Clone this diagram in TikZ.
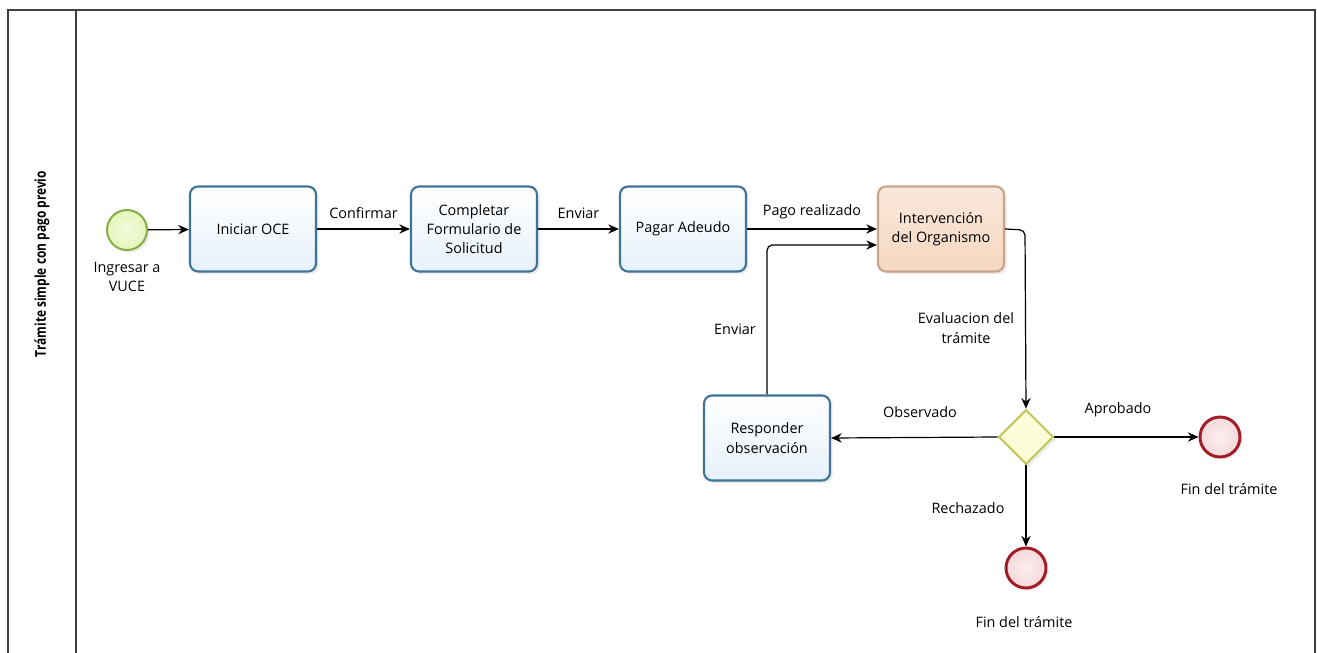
\documentclass[tikz,border=0pt]{standalone}
\usepackage{fontspec}
\setmainfont{Open Sans}
\newfontfamily\titlefont[FakeStretch=0.8]{Open Sans}
\usetikzlibrary{arrows.meta,shadows,calc,shapes.geometric}
\definecolor{taskfill}{HTML}{E6F1FA}
\definecolor{taskdraw}{HTML}{3F7497}
\definecolor{orgfill}{HTML}{F6D8C2}
\definecolor{orgdraw}{HTML}{C9A48A}
\definecolor{startfill}{HTML}{E6F5BA}
\definecolor{startdraw}{HTML}{86AE48}
\definecolor{endfill}{HTML}{F5D8DA}
\definecolor{enddraw}{HTML}{A11C26}
\definecolor{gwfill}{HTML}{FCFCD6}
\definecolor{gwdraw}{HTML}{C2C65C}
\tikzset{
  px/.style={x=0.75pt,y=-0.75pt},
  task/.style={draw=taskdraw,line width=1.6pt,rounded corners=6pt,minimum width=94.5pt,minimum height=63.75pt,
    inner sep=1pt,align=center,font=\fontsize{10.8}{14.5}\selectfont,
    top color=white,bottom color=taskfill,drop shadow={shadow xshift=2pt,shadow yshift=-2pt,opacity=0.15}},
  orgtask/.style={task,draw=orgdraw,top color=orgfill!60,bottom color=orgfill},
  startev/.style={circle,draw=startdraw,line width=1.5pt,minimum size=30pt,inner sep=0pt,
    inner color=startfill!50,outer color=startfill,drop shadow={shadow xshift=2pt,shadow yshift=-2pt,opacity=0.15}},
  endev/.style={circle,draw=enddraw,line width=2.2pt,minimum size=30pt,inner sep=0pt,
    inner color=endfill!40,outer color=endfill,drop shadow={shadow xshift=2pt,shadow yshift=-2pt,opacity=0.15}},
  gateway/.style={diamond,draw=gwdraw,line width=1.5pt,minimum size=41pt,inner sep=0pt,
    fill=gwfill,drop shadow={shadow xshift=2pt,shadow yshift=-2pt,opacity=0.15}},
  flow/.style={draw=black,line width=0.9pt,-{Stealth[length=8pt,width=7pt]},rounded corners=4pt},
  lbl/.style={font=\fontsize{10.8}{14.5}\selectfont,align=center,inner sep=0pt},
}
\begin{document}
\begin{tikzpicture}[px]
\useasboundingbox (0,0) rectangle (1317,653);
\fill[white] (0,0) rectangle (1317,653);
% pool
\draw[line width=1pt,color=black!75] (8,660) -- (8,10) -- (1315,10) -- (1315,660);
\draw[line width=1pt,color=black!75] (76,10) -- (76,660);
\node[rotate=90,font=\titlefont\bfseries\fontsize{11.2}{13}\selectfont,inner sep=0pt] (title) at (42,264) {Trámite simple con pago previo};

% nodes
\node[startev] (start) at (127,230) {};
\node[lbl,anchor=north] (startlbl) at (127,262) {Ingresar a\\VUCE};
\node[task] (oce) at (253,229) {Iniciar OCE};
\node[task] (form) at (474,229) {Completar\\Formulario de\\Solicitud};
\node[task] (pagar) at (683,229) {Pagar Adeudo};
\node[orgtask] (org) at (941,229) {Intervención\\del Organismo};
\node[task] (resp) at (767,438) {Responder\\observación};
\node[gateway] (gw) at (1026,437) {};
\node[endev] (endA) at (1220,437) {};
\node[endev] (endR) at (1026,568) {};
\node[lbl] (endAlbl) at (1229,489) {Fin del trámite};
\node[lbl] (endRlbl) at (1024,622) {Fin del trámite};

% flows
\draw[flow] (start) -- (oce);
\draw[flow] (oce) -- node[lbl,above=7pt] {Confirmar} (form);
\draw[flow] (form) -- node[lbl,above=7pt] {Enviar} (pagar);
\draw[flow] (pagar.east) -- node[lbl,above=7pt] {Pago realizado} (org.west);
\coordinate (c1) at (767,245);
\draw[flow] (resp.north) -- (c1) -- (org.west |- c1);
\node[lbl] (enviar2) at (735,329) {Enviar};
\coordinate (c2) at (1025,230);
\draw[flow] (org.east) -- (c2) -- (gw.north);
\node[lbl] (eval) at (966,328) {Evaluacion del\\trámite};
\draw[flow] (gw.west) -- (resp.east);
\node[lbl] (obs) at (920,412) {Observado};
\draw[flow] (gw.east) -- (endA.west);
\node[lbl] (apr) at (1118,410) {Aprobado};
\draw[flow] (gw.south) -- (endR.north);
\node[lbl] (rech) at (968,508) {Rechazado};
\end{tikzpicture}
\end{document}
